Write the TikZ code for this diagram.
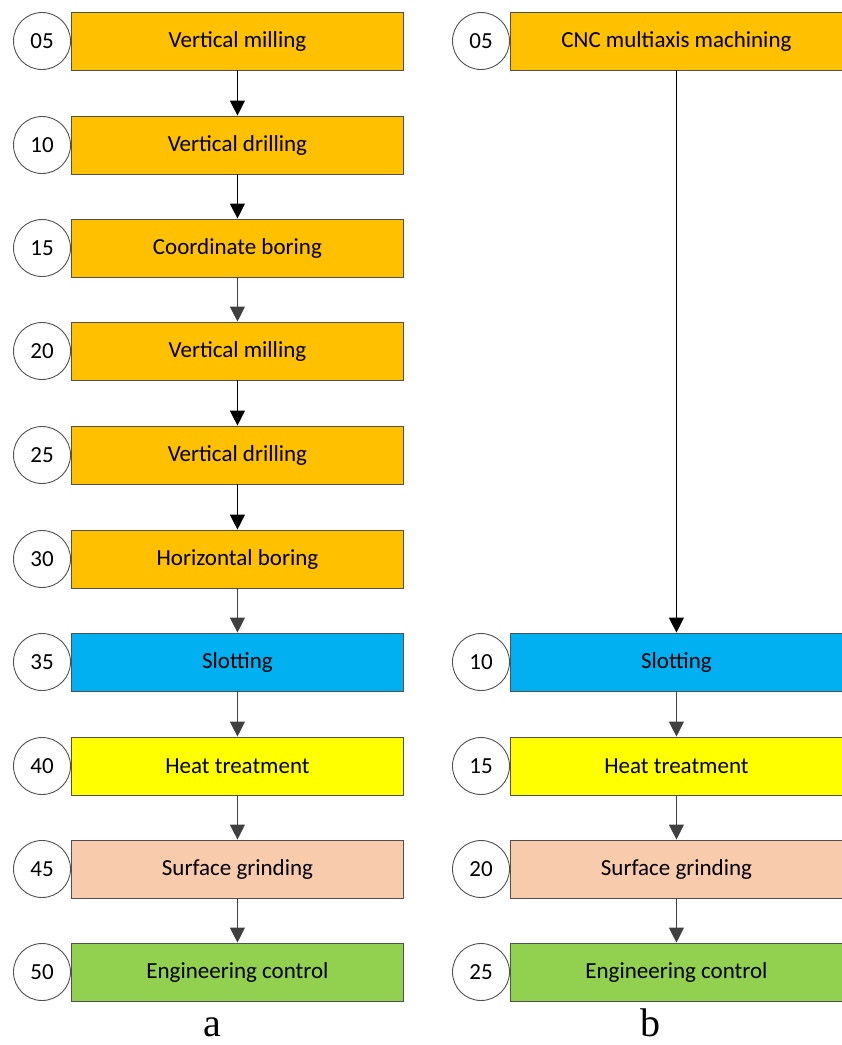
\documentclass[tikz,border=0pt]{standalone}
\usepackage{fontspec}
\setmainfont{Carlito}
\newfontfamily\labelfont{Liberation Serif}
\usetikzlibrary{arrows.meta}
\definecolor{cOrange}{HTML}{FFC000}
\definecolor{cBlue}{HTML}{00B0F0}
\definecolor{cYellow}{HTML}{FFFF00}
\definecolor{cPeach}{HTML}{F8CBAD}
\definecolor{cGreen}{HTML}{92D050}
\definecolor{cEdge}{HTML}{505050}
\definecolor{cArrow}{HTML}{404040}
\tikzset{
  opbox/.style={draw=cEdge, line width=0.9pt, minimum width=332pt, minimum height=58pt, inner sep=0pt, font=\fontsize{23}{26}\selectfont, anchor=west},
  numcirc/.style={draw=cEdge, fill=white, line width=0.9pt, circle, minimum size=57pt, inner sep=0pt, font=\fontsize{23}{26}\selectfont},
  flowblack/.style={draw=black, line width=1.1pt, -{Triangle[width=15pt,length=15pt]}},
  flowgray/.style={draw=cArrow, line width=1.1pt, -{Triangle[width=15pt,length=15pt,fill=cArrow]}},
  caplabel/.style={font=\labelfont\fontsize{40}{42}\selectfont, inner sep=0pt, anchor=base}
}
\begin{document}
\begin{tikzpicture}[x=1pt,y=-1pt]
\useasboundingbox (0,0) rectangle (842,1045);
% left column
\node[opbox, fill=cOrange] (a1) at (71,41) {Vertical milling};
\node[opbox, fill=cOrange] (a2) at (71,145) {Vertical drilling};
\node[opbox, fill=cOrange] (a3) at (71,248) {Coordinate boring};
\node[opbox, fill=cOrange] (a4) at (71,351) {Vertical milling};
\node[opbox, fill=cOrange] (a5) at (71,455) {Vertical drilling};
\node[opbox, fill=cOrange] (a6) at (71,559) {Horizontal boring};
\node[opbox, fill=cBlue] (a7) at (71,662) {Slotting};
\node[opbox, fill=cYellow] (a8) at (71,766) {Heat treatment};
\node[opbox, fill=cPeach] (a9) at (71,869) {Surface grinding};
\node[opbox, fill=cGreen] (a10) at (71,972) {Engineering control};
\node[numcirc] (ca1) at (42,41) {05};
\node[numcirc] (ca2) at (42,145) {10};
\node[numcirc] (ca3) at (42,248) {15};
\node[numcirc] (ca4) at (42,351) {20};
\node[numcirc] (ca5) at (42,455) {25};
\node[numcirc] (ca6) at (42,559) {30};
\node[numcirc] (ca7) at (42,662) {35};
\node[numcirc] (ca8) at (42,766) {40};
\node[numcirc] (ca9) at (42,869) {45};
\node[numcirc] (ca10) at (42,972) {50};
\draw[flowblack] (a1.south) -- (a2.north);
\draw[flowblack] (a2.south) -- (a3.north);
\draw[flowgray] (a3.south) -- (a4.north);
\draw[flowblack] (a4.south) -- (a5.north);
\draw[flowblack] (a5.south) -- (a6.north);
\draw[flowgray] (a6.south) -- (a7.north);
\draw[flowgray] (a7.south) -- (a8.north);
\draw[flowgray] (a8.south) -- (a9.north);
\draw[flowgray] (a9.south) -- (a10.north);
% right column
\node[opbox, fill=cOrange] (b1) at (510,41) {CNC multiaxis machining};
\node[opbox, fill=cBlue] (b2) at (510,662) {Slotting};
\node[opbox, fill=cYellow] (b3) at (510,766) {Heat treatment};
\node[opbox, fill=cPeach] (b4) at (510,869) {Surface grinding};
\node[opbox, fill=cGreen] (b5) at (510,972) {Engineering control};
\node[numcirc] (cb1) at (481,41) {05};
\node[numcirc] (cb2) at (481,662) {10};
\node[numcirc] (cb3) at (481,766) {15};
\node[numcirc] (cb4) at (481,869) {20};
\node[numcirc] (cb5) at (481,972) {25};
\draw[flowblack] (b1.south) -- (b2.north);
\draw[flowgray] (b2.south) -- (b3.north);
\draw[flowgray] (b3.south) -- (b4.north);
\draw[flowgray] (b4.south) -- (b5.north);
% captions
\node[caplabel] (la) at (212,1036) {a};
\node[caplabel] (lb) at (650,1036) {b};
\end{tikzpicture}
\end{document}
